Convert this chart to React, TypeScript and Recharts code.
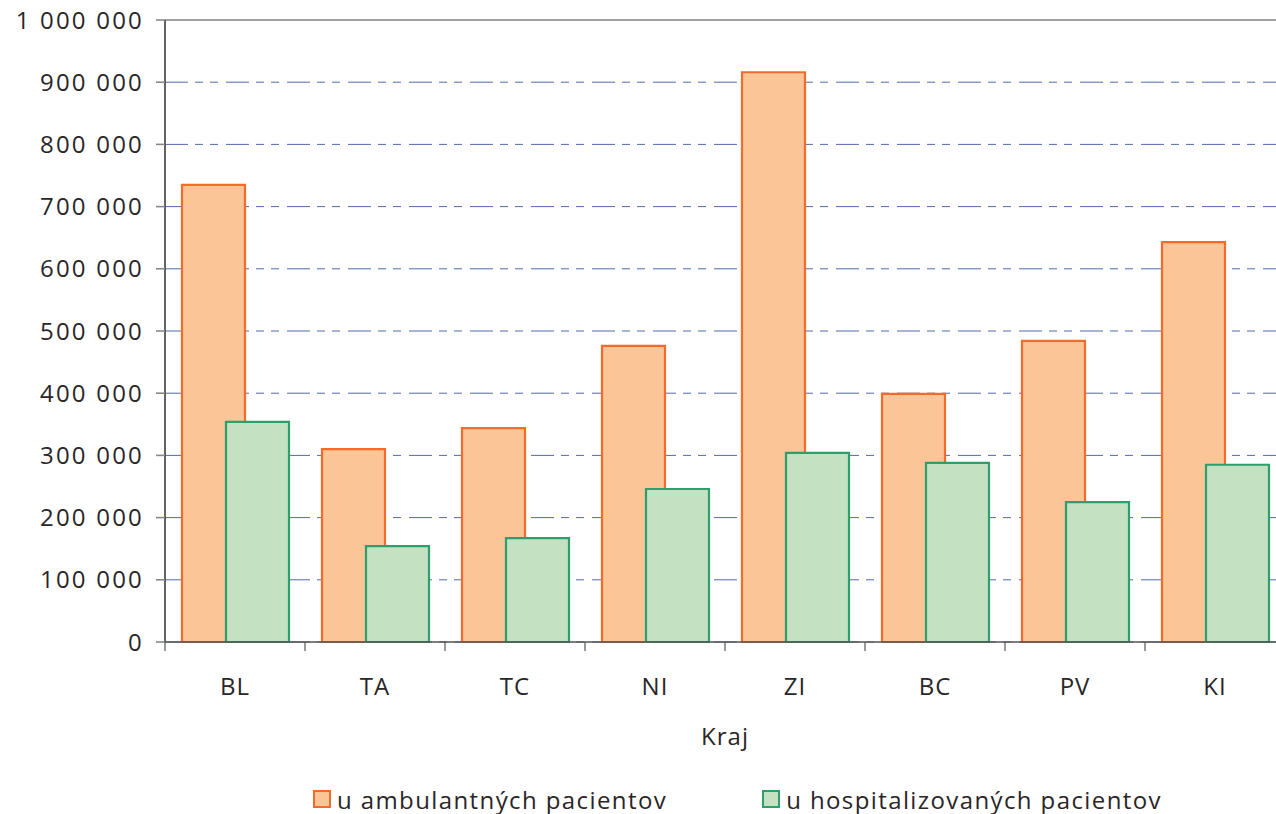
import React from 'react';
import { BarChart, Bar, XAxis, YAxis, CartesianGrid, ReferenceLine, Legend, Label } from 'recharts';

const categories = ['BL', 'TA', 'TC', 'NI', 'ZI', 'BC', 'PV', 'KI'];
const ambulantni = [735000, 310000, 344000, 476000, 916000, 399000, 484000, 643000];
const hospitalizovani = [354000, 154000, 167000, 246000, 304000, 288000, 225000, 285000];
const yTicks = [0, 100000, 200000, 300000, 400000, 500000, 600000, 700000, 800000, 900000, 1000000];
const seriesNames = ['u ambulantných pacientov', 'u hospitalizovaných pacientov'];

const data = categories.map((c, i) => ({ kraj: c, amb: ambulantni[i], hosp: hospitalizovani[i] }));

const FONT = '"Open Sans", "Noto Sans", sans-serif';
const TEXT = '#2a2627';
const ORANGE_FILL = '#FBC597';
const ORANGE_STROKE = '#F26B2A';
const GREEN_FILL = '#C4E2C2';
const GREEN_STROKE = '#2E9E6A';

const fmt = (v: number) => String(v).replace(/\B(?=(\d{3})+(?!\d))/g, ' ');

function XTick(props: any) {
  const { x, y, payload, index } = props;
  const off = payload && payload.offset ? payload.offset : 70;
  return (
    <g>
      <line x1={x - off} x2={x - off} y1={y - 9} y2={y} stroke="#555" strokeWidth={1.2} />
      {index === categories.length - 1 && (
        <line x1={x + off} x2={x + off} y1={y - 9} y2={y} stroke="#555" strokeWidth={1.2} />
      )}
      <text x={x} y={y + 44} textAnchor="middle" fill={TEXT} fontSize={24} fontFamily={FONT} letterSpacing={1}>
        {payload.value}
      </text>
    </g>
  );
}

function LegendContent() {
  const items = [
    { name: seriesNames[0], fill: ORANGE_FILL, stroke: ORANGE_STROKE },
    { name: seriesNames[1], fill: GREEN_FILL, stroke: GREEN_STROKE },
  ];
  return (
    <div style={{ display: 'flex', paddingLeft: 313, paddingTop: 13, gap: 95, fontFamily: FONT, fontSize: 24, letterSpacing: 1.4, color: TEXT }}>
      {items.map((it) => (
        <div key={it.name} style={{ display: 'flex', alignItems: 'center', height: 24, whiteSpace: 'nowrap' }}>
          <span style={{ display: 'inline-block', width: 14, height: 14, background: it.fill, border: `2.5px solid ${it.stroke}`, marginRight: 6 }} />
          <span>{it.name}</span>
        </div>
      ))}
    </div>
  );
}

export default function App() {
  return (
    <div style={{ width: 1276, height: 814, overflow: 'hidden', background: '#fff' }}>
      <style>{`body{margin:0;overflow:hidden;}`}</style>
      <BarChart
        width={1290}
        height={814}
        data={data}
        margin={{ top: 20, right: 5, left: 0, bottom: 0 }}
        barSize={63}
        barGap={-19}
      >
        <CartesianGrid vertical={false} stroke="#5568aa" strokeDasharray="23 7 8 7 8 8" />
        <ReferenceLine y={1000000} stroke="#a0a0a0" strokeWidth={2} ifOverflow="extendDomain" />
        <YAxis
          width={165}
          domain={[0, 1000000]}
          ticks={yTicks}
          tickFormatter={fmt}
          interval={0}
          tickSize={9}
          tickMargin={12}
          axisLine={{ stroke: '#3c3c3c', strokeWidth: 1.6 }}
          tickLine={{ stroke: '#888', strokeWidth: 1.6 }}
          tick={{ fill: TEXT, fontSize: 24, fontFamily: FONT, letterSpacing: 2.2 }}
        />
        <XAxis
          dataKey="kraj"
          height={132}
          tickSize={9}
          tickMargin={0}
          tickLine={false}
          interval={0}
          axisLine={{ stroke: '#555', strokeWidth: 1.6 }}
          tick={<XTick />}
        >
          <Label value="Kraj" position="insideBottom" offset={29} fill={TEXT} fontSize={24} fontFamily={FONT} letterSpacing={1} />
        </XAxis>
        <Legend verticalAlign="bottom" height={40} content={<LegendContent />} />
        <Bar dataKey="amb" name={seriesNames[0]} fill={ORANGE_FILL} stroke={ORANGE_STROKE} strokeWidth={2.2} isAnimationActive={false} />
        <Bar dataKey="hosp" name={seriesNames[1]} fill={GREEN_FILL} stroke={GREEN_STROKE} strokeWidth={2.2} isAnimationActive={false} />
      </BarChart>
    </div>
  );
}
